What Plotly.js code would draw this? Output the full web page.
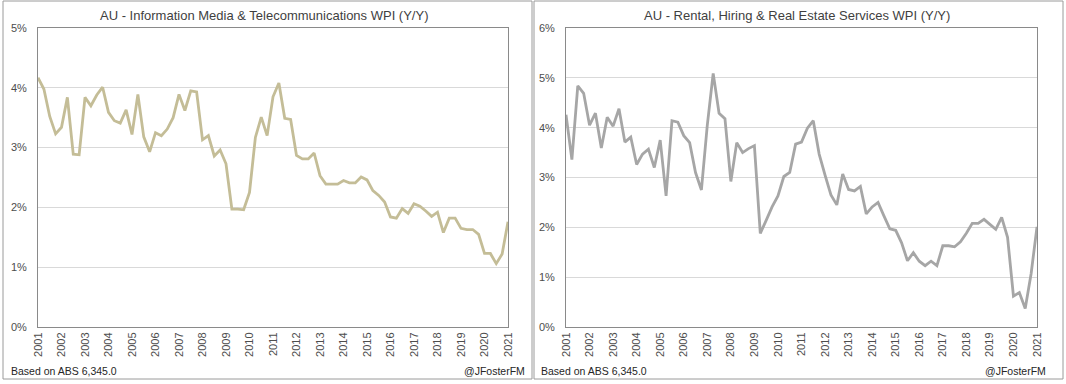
<!DOCTYPE html>
<html>
<head>
<meta charset="utf-8">
<script src="https://cdn.plot.ly/plotly-3.0.1.min.js"></script>
<style>html,body{margin:0;padding:0;background:#fff;}#chart{width:1066px;height:384px;}</style>
</head>
<body>
<div id="chart"></div>
<script>
// Quarterly WPI y/y growth (%), 2001Q1 .. 2021Q1
const startYear = 2001;
const mediaTelecom = [
  4.17,3.98,3.52,3.23,3.34,3.84,2.89,2.88,
  3.84,3.70,3.88,4.01,3.59,3.45,3.41,3.63,
  3.22,3.89,3.18,2.93,3.25,3.20,3.31,3.50,
  3.89,3.62,3.95,3.93,3.13,3.20,2.86,2.96,
  2.73,1.97,1.97,1.96,2.25,3.17,3.51,3.20,
  3.85,4.08,3.49,3.47,2.87,2.81,2.81,2.91,
  2.53,2.39,2.39,2.39,2.45,2.41,2.41,2.51,
  2.46,2.28,2.20,2.09,1.84,1.82,1.98,1.90,
  2.06,2.02,1.94,1.85,1.92,1.58,1.82,1.82,
  1.65,1.63,1.63,1.55,1.23,1.23,1.06,1.22,
  1.76
];
const rentalRealEstate = [
  4.26,3.36,4.84,4.69,4.05,4.29,3.59,4.21,
  4.03,4.38,3.71,3.81,3.26,3.47,3.57,3.20,
  3.75,2.63,4.14,4.11,3.84,3.70,3.10,2.75,
  4.05,5.09,4.29,4.18,2.92,3.70,3.50,3.58,
  3.64,1.88,2.14,2.41,2.63,3.02,3.10,3.67,
  3.71,3.99,4.14,3.47,3.05,2.65,2.45,3.07,
  2.76,2.73,2.82,2.27,2.41,2.50,2.23,1.97,
  1.94,1.69,1.33,1.49,1.32,1.23,1.32,1.23,
  1.63,1.63,1.61,1.71,1.88,2.08,2.08,2.16,
  2.06,1.96,2.20,1.80,0.62,0.69,0.37,1.07,
  2.01
];
const yearTicks = [2001,2002,2003,2004,2005,2006,2007,2008,2009,2010,2011,2012,2013,2014,2015,2016,2017,2018,2019,2020,2021];
const titles = ["AU - Information Media & Telecommunications WPI (Y/Y)", "AU - Rental, Hiring & Real Estate Services WPI (Y/Y)"];
const sourceText = "Based on ABS 6,345.0";
const creditText = "@JFosterFM";

const W = 1066, H = 384;
const qx = arr => arr.map((_, i) => startYear + i / 4);
const px = v => v / W;
const py = v => 1 - v / H;

const FONT = "Liberation Sans, Arial, sans-serif";
const TXT = "#4d4d4d";
const AXLINE = "#8a8a8a";

const traces = [
  {x: qx(mediaTelecom), y: mediaTelecom, type: "scatter", mode: "lines",
   line: {color: "#c4bd97", width: 2.8}, xaxis: "x", yaxis: "y", hoverinfo: "x+y"},
  {x: qx(rentalRealEstate), y: rentalRealEstate, type: "scatter", mode: "lines",
   line: {color: "#a6a6a6", width: 2.8}, xaxis: "x2", yaxis: "y2", hoverinfo: "x+y"}
];

function xax(domain) {
  return {
    domain: domain, range: [2001, 2021], tickvals: yearTicks, ticktext: yearTicks.map(String),
    tickangle: -90, showgrid: false, zeroline: false, showline: true, mirror: true,
    linecolor: AXLINE, linewidth: 1, ticks: "", tickfont: {family: FONT, size: 11, color: TXT},
    fixedrange: true
  };
}
function yax(domain, max, anchor) {
  return {
    domain: domain, range: [0, max], dtick: 1, tick0: 0, ticksuffix: "%",
    showgrid: true, gridcolor: "#d9d9d9", gridwidth: 1, zeroline: false,
    showline: true, mirror: true, linecolor: AXLINE, linewidth: 1, ticks: "",
    ticklabelstandoff: 8, tickfont: {family: FONT, size: 11, color: TXT}, anchor: anchor,
    fixedrange: true
  };
}

const yDom = [py(327), py(28)];
const layout = {
  width: W, height: H, margin: {l: 0, r: 0, t: 0, b: 0},
  paper_bgcolor: "#ffffff", plot_bgcolor: "#ffffff", showlegend: false,
  xaxis: Object.assign(xax([px(38), px(508)]), {anchor: "y"}),
  yaxis: yax(yDom, 5, "x"),
  xaxis2: Object.assign(xax([px(566), px(1037)]), {anchor: "y2"}),
  yaxis2: yax(yDom, 6, "x2"),
  shapes: [
    {type: "rect", xref: "paper", yref: "paper", x0: px(3), x1: px(532), y0: py(379), y1: py(1),
     line: {color: "#9a9a9a", width: 1}, fillcolor: "rgba(0,0,0,0)", layer: "below"},
    {type: "rect", xref: "paper", yref: "paper", x0: px(534), x1: px(1063), y0: py(379), y1: py(1),
     line: {color: "#9a9a9a", width: 1}, fillcolor: "rgba(0,0,0,0)", layer: "below"}
  ],
  annotations: [
    {text: titles[0], xref: "paper", yref: "paper", x: px(264), y: py(15), xanchor: "center", yanchor: "middle",
     showarrow: false, font: {family: FONT, size: 13, color: "#3f3f3f"}},
    {text: titles[1], xref: "paper", yref: "paper", x: px(797), y: py(15), xanchor: "center", yanchor: "middle",
     showarrow: false, font: {family: FONT, size: 13, color: "#3f3f3f"}},
    {text: sourceText, xref: "paper", yref: "paper", x: px(9), y: py(371), xanchor: "left", yanchor: "middle",
     showarrow: false, font: {family: FONT, size: 10.5, color: "#262626"}},
    {text: creditText, xref: "paper", yref: "paper", x: px(527), y: py(371), xanchor: "right", yanchor: "middle",
     showarrow: false, font: {family: FONT, size: 10.5, color: "#262626"}},
    {text: sourceText, xref: "paper", yref: "paper", x: px(539), y: py(371), xanchor: "left", yanchor: "middle",
     showarrow: false, font: {family: FONT, size: 10.5, color: "#262626"}},
    {text: creditText, xref: "paper", yref: "paper", x: px(1048), y: py(371), xanchor: "right", yanchor: "middle",
     showarrow: false, font: {family: FONT, size: 10.5, color: "#262626"}}
  ]
};

Plotly.newPlot("chart", traces, layout, {displayModeBar: false, staticPlot: true});
</script>
</body>
</html>
